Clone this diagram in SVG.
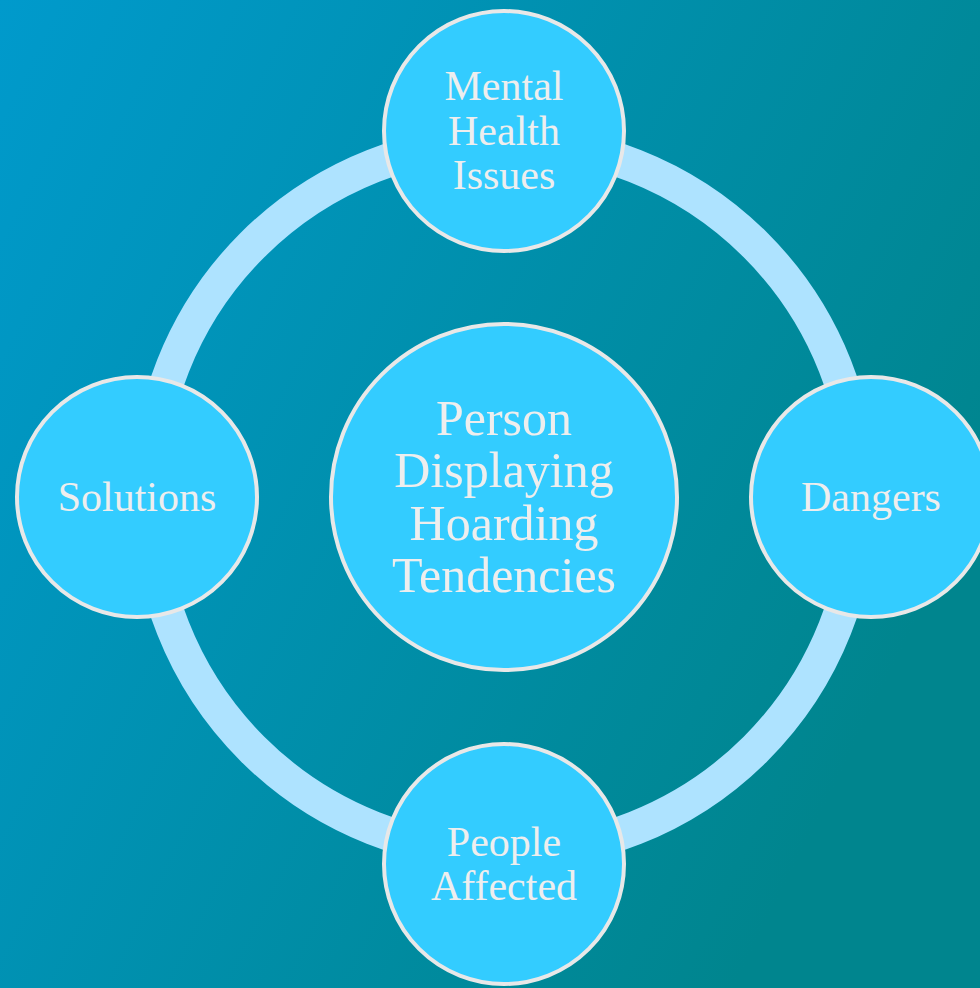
<svg xmlns="http://www.w3.org/2000/svg" width="980" height="988" viewBox="0 0 980 988">
  <defs>
    <linearGradient id="bg" x1="0" y1="0" x2="1" y2="0.5">
      <stop offset="0" stop-color="#009acc"/>
      <stop offset="1" stop-color="#00858e"/>
    </linearGradient>
  </defs>
  <style>
    .node { fill: #33ccff; stroke: #e8e8e8; stroke-width: 4; }
    .label { fill: #eeeeee; font-family: "Liberation Serif", "Times New Roman", serif; text-anchor: middle; }
    .small { font-size: 42px; }
    .big { font-size: 50px; }
    .ring { fill: none; stroke: #aee3ff; stroke-width: 34; }
  </style>
  <rect x="0" y="0" width="980" height="988" fill="url(#bg)"/>

  <g id="connectors">
    <circle class="ring" cx="504" cy="497" r="356"/>
  </g>

  <g id="center">
    <circle class="node" cx="504" cy="497" r="173"/>
    <text class="label big" x="504" y="435">Person</text>
    <text class="label big" x="504" y="487">Displaying</text>
    <text class="label big" x="504" y="540">Hoarding</text>
    <text class="label big" x="504" y="592">Tendencies</text>
  </g>

  <g id="mental-health">
    <circle class="node" cx="504" cy="131" r="120"/>
    <text class="label small" x="504" y="100">Mental</text>
    <text class="label small" x="504" y="145">Health</text>
    <text class="label small" x="504" y="189">Issues</text>
  </g>

  <g id="dangers">
    <circle class="node" cx="871" cy="497" r="120"/>
    <text class="label small" x="871" y="511">Dangers</text>
  </g>

  <g id="people-affected">
    <circle class="node" cx="504" cy="864" r="120"/>
    <text class="label small" x="504" y="856">People</text>
    <text class="label small" x="504" y="900">Affected</text>
  </g>

  <g id="solutions">
    <circle class="node" cx="137" cy="497" r="120"/>
    <text class="label small" x="137" y="511">Solutions</text>
  </g>
</svg>
